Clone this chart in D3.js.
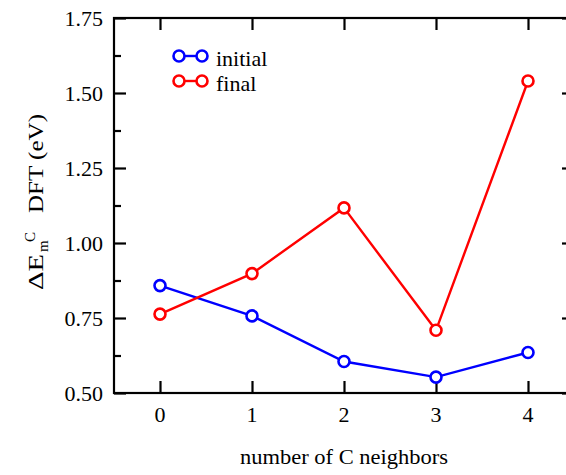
<!DOCTYPE html>
<html><head><meta charset="utf-8">
<script src="https://cdn.jsdelivr.net/npm/d3@7"></script>
<style>body{margin:0;background:#fff}svg{display:block}</style>
</head><body><div id="c"></div>
<script>
const categories = [0, 1, 2, 3, 4];
const initialValues = [0.858, 0.757, 0.605, 0.553, 0.635];
const finalValues = [0.763, 0.898, 1.117, 0.709, 1.540];
const yTicks = [0.50, 0.75, 1.00, 1.25, 1.50, 1.75];
const yMinor = [0.625, 0.875, 1.125, 1.375, 1.625];
const seriesNames = ["initial", "final"];
const seriesColors = ["#0000ff", "#ff0000"];

const W = 566, H = 475;
const FONT = "Liberation Serif";
const svg = d3.select("#c").append("svg").attr("width", W).attr("height", H);
const x = d3.scaleLinear().domain([-0.5, 4.5]).range([114, 574]);
const y = d3.scaleLinear().domain([0.5, 1.75]).range([393, 18]);

const g = svg.append("g");
g.append("rect").attr("x", x(-0.5)).attr("y", y(1.75)).attr("width", x(4.5) - x(-0.5)).attr("height", y(0.5) - y(1.75))
  .attr("fill", "none").attr("stroke", "#000").attr("stroke-width", 2.2);

const tickStyle = s => s.selectAll("line").attr("stroke", "#000").attr("stroke-width", 2.2);
const noDom = s => s.select(".domain").remove();
g.append("g").attr("transform", `translate(0,${y(0.5)})`)
  .call(d3.axisTop(x).tickValues(categories).tickSize(12).tickFormat("")).call(noDom).call(tickStyle);
g.append("g").attr("transform", `translate(0,${y(1.75)})`)
  .call(d3.axisBottom(x).tickValues(categories).tickSize(12).tickFormat("")).call(noDom).call(tickStyle);
g.append("g").attr("transform", `translate(${x(-0.5)},0)`)
  .call(d3.axisRight(y).tickValues(yTicks).tickSize(12).tickFormat("")).call(noDom).call(tickStyle);
g.append("g").attr("transform", `translate(${x(-0.5)},0)`)
  .call(d3.axisRight(y).tickValues(yMinor).tickSize(7).tickFormat("")).call(noDom).call(tickStyle);
g.append("g").attr("transform", `translate(${x(4.5)},0)`)
  .call(d3.axisLeft(y).tickValues(yTicks).tickSize(12).tickFormat("")).call(noDom).call(tickStyle);
g.append("g").attr("transform", `translate(${x(4.5)},0)`)
  .call(d3.axisLeft(y).tickValues(yMinor).tickSize(7).tickFormat("")).call(noDom).call(tickStyle);

const T = sel => sel.attr("font-family", FONT).attr("fill", "#000");

g.selectAll(".yl").data(yTicks).enter().append("text").call(T)
  .attr("x", 103).attr("y", d => y(d) + 8).attr("text-anchor", "end")
  .attr("font-size", 22).text(d => d.toFixed(2));
g.selectAll(".xl").data(categories).enter().append("text").call(T)
  .attr("x", d => x(d)).attr("y", 422).attr("text-anchor", "middle")
  .attr("font-size", 22).text(d => d);

g.append("text").call(T).attr("x", 240).attr("y", 464)
  .attr("font-size", 22).attr("textLength", 208).attr("lengthAdjust", "spacingAndGlyphs")
  .text("number of C neighbors");
const yt = g.append("text").call(T).attr("transform", "translate(43,290) rotate(-90)").attr("font-size", 22);
yt.append("tspan").attr("x", 0).attr("y", 0).attr("textLength", 36).attr("lengthAdjust", "spacingAndGlyphs").text("ΔE");
yt.append("tspan").attr("x", 38).attr("y", 5).attr("font-size", 15).text("m");
yt.append("tspan").attr("x", 48).attr("y", -8).attr("font-size", 15).text("C");
yt.append("tspan").attr("x", 77).attr("y", 0).attr("textLength", 99).attr("lengthAdjust", "spacingAndGlyphs").text("DFT (eV)");

const series = [initialValues, finalValues];
const line = d3.line().x((d, i) => x(categories[i])).y(d => y(d));
series.forEach((vals, k) => {
  g.append("path").datum(vals).attr("d", line).attr("fill", "none")
    .attr("stroke", seriesColors[k]).attr("stroke-width", 2.4);
  g.selectAll(".m" + k).data(vals).enter().append("circle")
    .attr("cx", (d, i) => x(categories[i])).attr("cy", d => y(d)).attr("r", 5.5)
    .attr("fill", "#fff").attr("stroke", seriesColors[k]).attr("stroke-width", 2.6);
});

const legY = [56, 81];
seriesNames.forEach((n, k) => {
  g.append("line").attr("x1", 179).attr("x2", 202).attr("y1", legY[k]).attr("y2", legY[k])
    .attr("stroke", seriesColors[k]).attr("stroke-width", 2.4);
  [179, 202].forEach(cx => g.append("circle").attr("cx", cx).attr("cy", legY[k]).attr("r", 5.5)
    .attr("fill", "#fff").attr("stroke", seriesColors[k]).attr("stroke-width", 2.6));
  g.append("text").call(T).attr("x", 216).attr("y", legY[k] + 10).attr("font-size", 22).text(n);
});
</script></body></html>
